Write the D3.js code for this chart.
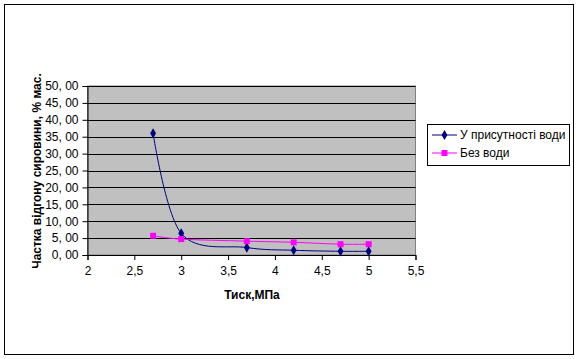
<!DOCTYPE html>
<html><head><meta charset="utf-8">
<script src="https://cdn.jsdelivr.net/npm/d3@7"></script>
<style>body{margin:0;background:#fff}svg{display:block}text{font-family:"Liberation Sans",Arial,sans-serif}</style>
</head><body><svg id="c" width="579" height="359"></svg>
<script>
const pressure = [2.7, 3, 3.7, 4.2, 4.7, 5];
const withWater = [36.0, 6.4, 2.2, 1.4, 1.1, 1.1];
const noWater = [5.7, 4.7, 4.1, 3.75, 3.2, 3.2];
const xTicks = [2, 2.5, 3, 3.5, 4, 4.5, 5, 5.5];
const yTicks = [0, 5, 10, 15, 20, 25, 30, 35, 40, 45, 50];
const seriesNames = ["У присутності води", "Без води"];

const svg = d3.select("#c");
svg.append("rect").attr("x",4.5).attr("y",4.5).attr("width",569).attr("height",350)
  .attr("fill","#fff").attr("stroke","#000").attr("stroke-width",1);

const L=87.5, R=415.5, T=86, B=255;
const x = d3.scaleLinear().domain([2,5.5]).range([L,R]);
const y = d3.scaleLinear().domain([0,50]).range([B,T]);

svg.append("rect").attr("x",L).attr("y",T).attr("width",R-L).attr("height",B-T)
  .attr("fill","#c0c0c0").attr("stroke","#808080");

svg.append("g").selectAll("line").data(yTicks.slice(1)).join("line")
  .attr("x1",L).attr("x2",R).attr("y1",d=>Math.round(y(d))+0.5).attr("y2",d=>Math.round(y(d))+0.5)
  .attr("stroke","#000");

const fmt = d => d.toFixed(2).replace(".", ", ");
const yAxis = svg.append("g").attr("transform",`translate(${L},0)`)
  .call(d3.axisLeft(y).tickValues(yTicks).tickSize(5).tickPadding(4).tickFormat(fmt));
const xAxis = svg.append("g").attr("transform",`translate(0,${B})`)
  .call(d3.axisBottom(x).tickValues(xTicks).tickSize(5).tickPadding(6).tickFormat(d=>String(d).replace(".",",")));
[yAxis,xAxis].forEach(a=>{a.select(".domain").attr("stroke","#000");a.selectAll(".tick line").attr("stroke","#000");
  a.selectAll("text").attr("font-size",12).attr("fill","#000").attr("font-family","Liberation Sans, Arial, sans-serif");});

const line = d3.line().x(d=>x(d[0])).y(d=>y(d[1])).curve(d3.curveCatmullRom.alpha(0));
const data1 = pressure.map((p,i)=>[p,withWater[i]]);
const data2 = pressure.map((p,i)=>[p,noWater[i]]);
const cBlue="#000080", cPink="#ff00ff";
svg.append("path").attr("d",line(data1)).attr("fill","none").attr("stroke",cBlue).attr("stroke-width",1);
svg.append("path").attr("d",line(data2)).attr("fill","none").attr("stroke",cPink).attr("stroke-width",1);
const diamond = d3.symbol().type(d3.symbolDiamond).size(30);
svg.append("g").selectAll("path").data(data1).join("path")
  .attr("transform",d=>`translate(${x(d[0])},${y(d[1])})`).attr("d",diamond).attr("fill",cBlue);
svg.append("g").selectAll("rect").data(data2).join("rect")
  .attr("x",d=>x(d[0])-3).attr("y",d=>y(d[1])-3).attr("width",6).attr("height",6).attr("fill",cPink);

svg.append("text").attr("x",252).attr("y",299).attr("text-anchor","middle")
  .attr("font-size",12).attr("font-weight","bold").text("Тиск,МПа");
svg.append("text").attr("transform","translate(40.5,171) rotate(-90)").attr("text-anchor","middle")
  .attr("font-size",12).attr("font-weight","bold").text("Частка відгону сировини, % мас.");

// legend
const lg = svg.append("g");
lg.append("rect").attr("x",427.5).attr("y",124.5).attr("width",142).attr("height",41).attr("fill","#fff").attr("stroke","#000");
const ly=[135,153];
lg.append("line").attr("x1",432).attr("x2",457).attr("y1",ly[0]).attr("y2",ly[0]).attr("stroke",cBlue);
lg.append("path").attr("transform",`translate(444.5,${ly[0]})`).attr("d",diamond).attr("fill",cBlue);
lg.append("line").attr("x1",432).attr("x2",457).attr("y1",ly[1]).attr("y2",ly[1]).attr("stroke",cPink);
lg.append("rect").attr("x",441.5).attr("y",ly[1]-3).attr("width",6).attr("height",6).attr("fill",cPink);
seriesNames.forEach((n,i)=>lg.append("text").attr("x",460).attr("y",ly[i]+4).attr("font-size",12).text(n));
</script></body></html>
